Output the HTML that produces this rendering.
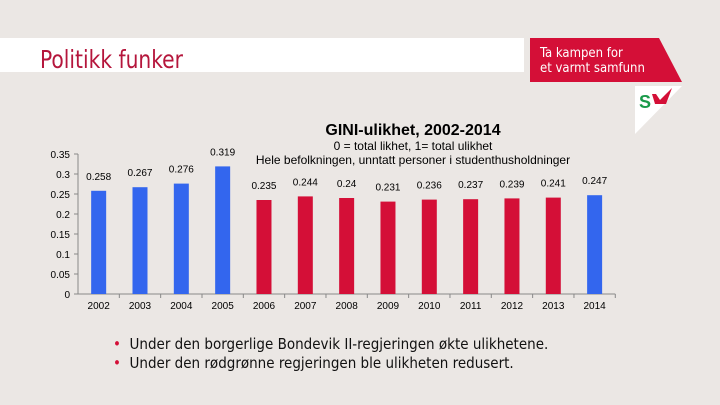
<!DOCTYPE html>
<html><head><meta charset="utf-8"><style>
body{margin:0;width:720px;height:405px;background:#ebe7e4;position:relative;overflow:hidden;font-family:"Liberation Sans",sans-serif}
.hdr{position:absolute;left:0;top:38px;width:524px;height:34px;background:#fff}
.title{position:absolute;left:40px;top:45px;font-size:25px;color:#b5163c;font-family:"DejaVu Sans Condensed","Liberation Sans",sans-serif;transform:scaleX(.9);transform-origin:left}
.bul{position:absolute;left:113px;font-size:15px;color:#111;font-family:"DejaVu Sans Condensed","Liberation Sans",sans-serif}
</style></head><body>
<div class="hdr"></div>
<div class="title">Politikk funker</div>
<svg style="position:absolute;left:0;top:0" width="720" height="405">
<polygon points="530,38 659,38 682,82 530,82" fill="#d40f37"/>
<text x="540" y="57" font-size="13" fill="#fff" font-family="DejaVu Sans Condensed, Liberation Sans, sans-serif">Ta kampen for</text>
<text x="540" y="72" font-size="13" fill="#fff" font-family="DejaVu Sans Condensed, Liberation Sans, sans-serif">et varmt samfunn</text>
<polygon points="635,86 682,86 635,134" fill="#fff"/>
<text x="639" y="108" font-size="18" font-weight="bold" fill="#1a9a4a">S</text>
<polygon points="652,94 656,94 660,100 672,88 666,104 655,104" fill="#d40f37"/>
</svg>
<svg id="chart" style="position:absolute;left:0;top:0" width="720" height="405" font-family="Liberation Sans, sans-serif">
<text x="413" y="135" text-anchor="middle" font-size="16" font-weight="bold">GINI-ulikhet, 2002-2014</text>
<text x="413" y="150" text-anchor="middle" font-size="12">0 = total likhet, 1= total ulikhet</text>
<text x="413" y="164" text-anchor="middle" font-size="12">Hele befolkningen, unntatt personer i studenthusholdninger</text>
</svg>
<div class="bul" style="top:335px"><span style="color:#d40f37">•</span>&nbsp; Under den borgerlige Bondevik II-regjeringen økte ulikhetene.</div>
<div class="bul" style="top:354px"><span style="color:#d40f37">•</span>&nbsp; Under den rødgrønne regjeringen ble ulikheten redusert.</div>
<script>
const years=["2002","2003","2004","2005","2006","2007","2008","2009","2010","2011","2012","2013","2014"];
const values=[0.258,0.267,0.276,0.319,0.235,0.244,0.24,0.231,0.236,0.237,0.239,0.241,0.247];
const labels=["0.258","0.267","0.276","0.319","0.235","0.244","0.24","0.231","0.236","0.237","0.239","0.241","0.247"];
const colors=["b","b","b","b","r","r","r","r","r","r","r","r","b"];
const yTicks=[0,0.05,0.1,0.15,0.2,0.25,0.3,0.35];
const yTickLabels=["0","0.05","0.1","0.15","0.2","0.25","0.3","0.35"];
const svg=document.getElementById('chart');const NS="http://www.w3.org/2000/svg";
const x0=78,slot=41.33,y0=294,yMax=0.35,yTop=154;
const y=v=>y0-(v/yMax)*(y0-yTop);
const xc=i=>x0+slot*(i+0.5);
function mk(t,a){const e=document.createElementNS(NS,t);for(const k in a)e.setAttribute(k,a[k]);svg.appendChild(e);return e;}
let ax=mk('line',{x1:x0,y1:yTop,x2:x0,y2:y0,stroke:'#888'});


let bx=mk('line',{x1:x0,y1:y0,x2:x0+slot*years.length,y2:y0,stroke:'#888'});


yTicks.forEach((v,i)=>{mk('line',{x1:x0-4,y1:y(v),x2:x0,y2:y(v),stroke:'#888'});
const t=mk('text',{x:x0-8,y:y(v)+4,'text-anchor':'end','font-size':10});t.textContent=yTickLabels[i];

});
years.forEach((yr,i)=>{
mk('line',{x1:x0+slot*(i+1),y1:y0,x2:x0+slot*(i+1),y2:y0+4,stroke:'#888'});
const r=mk('rect',{x:xc(i)-7.5,y:y(values[i]),width:15,height:y0-y(values[i]),fill:colors[i]=='b'?'#3366ee':'#d40f37'});


const l=mk('text',{x:xc(i),y:y(values[i])-11,'text-anchor':'middle','font-size':10});l.textContent=labels[i];


const t=mk('text',{x:xc(i),y:y0+15,'text-anchor':'middle','font-size':10});t.textContent=yr;


});
</script>
</body></html>
